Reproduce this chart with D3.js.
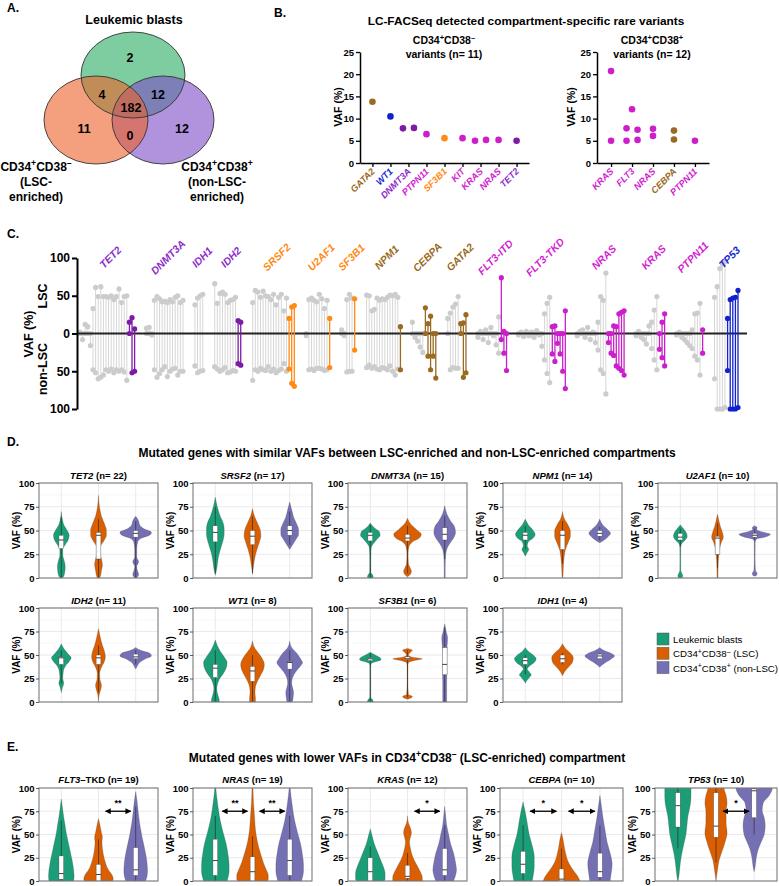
<!DOCTYPE html>
<html><head><meta charset="utf-8">
<script src="https://cdn.jsdelivr.net/npm/d3@7/dist/d3.min.js"></script>
<style>
html,body{margin:0;padding:0;background:#fff;}
svg{display:block;}
</style></head><body>
<svg id="fig" width="779" height="886" xmlns="http://www.w3.org/2000/svg"></svg>
<script>
// ================= DATA =================
// ---- A. Venn diagram ----
const vennSets = ["Leukemic blasts", "CD34+CD38– (LSC-enriched)", "CD34+CD38+ (non-LSC-enriched)"];
const vennRegions = ["blasts only", "blasts∩LSC", "blasts∩non-LSC", "all three", "LSC only", "LSC∩non-LSC", "non-LSC only"];
const vennCounts = [2, 4, 12, 182, 11, 0, 12];

// ---- B. compartment-specific rare variants ----
const bLeftGenes = ["GATA2", "WT1", "DNMT3A", "PTPN11", "SF3B1", "KIT", "KRAS", "NRAS", "TET2"];
const bLeftVarGene = ["GATA2", "WT1", "DNMT3A", "DNMT3A", "PTPN11", "SF3B1", "KIT", "KRAS", "KRAS", "NRAS", "TET2"];
const bLeftVAF = [13.8, 10.5, 7.8, 7.9, 6.5, 5.6, 5.6, 5.0, 5.2, 5.2, 5.0];
const bLeftSlot = [0, 0, -1, 1, 0, 0, 0, -1, 1, 0, 0];
const bRightGenes = ["KRAS", "FLT3", "NRAS", "CEBPA", "PTPN11"];
const bRightVarGene = ["KRAS", "KRAS", "FLT3", "FLT3", "FLT3", "FLT3", "FLT3", "NRAS", "NRAS", "CEBPA", "CEBPA", "PTPN11"];
const bRightVAF = [20.7, 5.0, 7.8, 5.0, 12.1, 7.5, 5.2, 7.7, 6.1, 7.3, 5.3, 5.0];
const bRightSlot = [0, 0, -1, -1, 0, 1, 1, 0, 0, 0, 0, 0];
const bTicks = [0, 5, 10, 15, 20, 25];

// ---- C. paired VAFs (LSC up, non-LSC down) ----
const cGenes = ["TET2", "DNMT3A", "IDH1", "IDH2", "SRSF2", "U2AF1", "SF3B1", "NPM1", "CEBPA", "GATA2", "FLT3-ITD", "FLT3-TKD", "NRAS", "KRAS", "PTPN11", "TP53"];
const cShared = [
  [[2,0],[0,8],[12,0],[9,0],[0,16],[33,48],[61,52],[49,60],[62,58],[49,55],[49,48],[48,50],[50,47],[45,52],[49,48],[59,50],[41,48],[49,51],[50,62]],
  [[7,0],[8,0],[0,2],[44,48],[49,58],[46,53],[42,48],[43,44],[41,57],[45,50],[42,47],[48,46],[50,55],[41,50],[44,50]],
  [[38,43],[47,52],[50,50],[52,49]],
  [[66,44],[40,47],[53,50],[55,48],[52,45],[41,52],[44,51],[45,49],[48,50]],
  [[41,62],[57,48],[55,50],[48,46],[56,48],[50,49],[49,44],[45,50],[52,47],[38,52],[48,49],[52,47],[30,40],[47,50]],
  [[0,3],[45,48],[47,47],[44,49],[42,46],[52,46],[46,47],[33,49],[44,48]],
  [[5,0],[0,3],[45,51],[52,50],[47,50]],
  [[51,45],[50,42],[30,46],[32,44],[47,47],[44,48],[46,45],[45,46],[48,48],[51,43],[50,50],[52,55],[48,47]],
  [[15,0],[0,5],[0,10],[0,18],[0,25]],
  [[20,0],[27,48],[35,45],[39,46],[49,46]],
  [[0,5],[3,0],[0,8],[5,0],[0,12],[8,0],[0,3],[0,15],[22,26]],
  [[0,2],[2,0],[0,4],[3,0],[0,3],[2,2],[0,5],[4,0],[0,2],[0,17],[26,35],[40,53],[48,65]],
  [[0,3],[3,0],[5,0],[0,5],[8,0],[0,8],[2,0],[0,12],[15,22],[49,48],[44,53],[80,80]],
  [[0,3],[3,0],[0,5],[0,8],[0,14],[10,0],[15,20],[31,35],[49,48]],
  [[0,2],[2,0],[0,5],[0,8],[0,12],[0,16],[5,20],[26,30],[27,35],[40,55]],
  [[48,60],[62,100],[86,100],[92,100],[95,98]]
];
const cSpecific = [
  [[15,0],[21,52],[6,50]],
  [],
  [],
  [[17,40],[15,42]],
  [[20,47],[35,66],[37,70]],
  [[20,45]],
  [[46,22]],
  [[9,48]],
  [[34,0],[13,30],[23,48],[0,30],[0,59]],
  [[13,0],[14,58],[25,52]],
  [[74,8],[3,26],[0,49]],
  [[9,27],[10,37],[0,13],[0,27],[0,50],[30,73]],
  [[0,12],[0,26],[10,29],[9,43],[26,46],[28,49],[30,55]],
  [[0,21],[15,32],[26,43]],
  [[5,26]],
  [[20,49],[45,100],[47,100],[48,100],[57,98]]
];
const cTicks = [-100, -50, 0, 50, 100];

// ---- D. similar VAFs (violins: [VAF, density] profiles; boxes: [min,q1,median,q3,max]) ----
const groupNames = ["Leukemic blasts", "CD34+CD38– (LSC)", "CD34+CD38+ (non-LSC)"];
const dGenes = ["TET2", "SRSF2", "DNMT3A", "NPM1", "U2AF1", "IDH2", "WT1", "SF3B1", "IDH1"];
const dN = [22, 17, 15, 14, 10, 11, 8, 6, 4];
const dBlastsViolin = [
 [[70,0],[62,1],[55,3],[50,6],[45,8],[40,7],[35,4],[30,1.5],[24,1.5],[18,3],[12,4],[6,3.5],[1,2],[0,1]],
 [[85,0],[75,2],[65,5],[58,8],[52,9],[46,9],[40,8],[33,6],[26,4],[18,2.5],[10,1.5],[5,0.5],[3,0]],
 [[58,0],[53,4],[49,9],[45,10],[41,7],[36,3],[32,1],[25,0.6],[15,0.5],[6,0.6],[3,2.5],[1,3],[0,2]],
 [[62,0],[56,3],[50,8],[46,10],[42,8],[38,3],[34,2],[30,3.5],[27,2],[23,0]],
 [[56,0],[52,3],[48,6],[44,7],[40,5],[37,2],[33,0.5],[20,0.4],[8,0.5],[4,2],[2,2.5],[0,1.5]],
 [[62,0],[56,3],[51,7],[47,10],[43,8],[38,4],[32,2],[25,1.5],[20,2.5],[15,1],[10,0]],
 [[66,0],[60,2],[54,5],[48,9],[42,12],[36,11],[30,8],[24,4],[18,2],[14,1.5],[10,2],[6,3],[2,4],[0,4]],
 [[53,0],[50,5],[47,10],[45,11],[43,6],[41,1],[38,0.4],[20,0.4],[5,0.5],[2,2.5],[0,3]],
 [[58,0],[54,3],[50,8],[46,11],[42,9],[38,4],[35,2],[32,4],[29,6],[26,4],[22,1],[20,0]]
];
const dLSCViolin = [
 [[87,0],[75,1],[65,3],[57,6],[50,8],[45,8],[40,6],[33,2],[27,1.5],[20,3],[14,4],[8,3],[2,2],[0,1]],
 [[73,0],[65,2],[58,5],[50,8],[44,8.5],[38,7],[30,4.5],[22,2.5],[12,1],[4,0]],
 [[63,0],[57,3],[51,9],[46,14],[42,12],[38,5],[33,1.5],[25,0.6],[15,1],[10,3],[7,4],[4,3],[2,1],[1,0]],
 [[70,0],[62,2],[55,6],[49,8],[44,8],[38,6],[30,3],[20,1.5],[10,0.8],[2,0.5],[0,0]],
 [[67,0],[60,1.5],[54,3],[48,5],[43,6],[38,4],[30,2],[20,1],[10,0.6],[0,0.5]],
 [[78,0],[68,2],[60,4],[54,6],[48,7],[43,6],[37,3],[30,1.2],[24,1.5],[18,3],[14,2.5],[8,0.8],[0,0]],
 [[65,0],[58,2],[52,6],[46,10],[40,12],[34,11],[28,8],[22,5],[16,3],[10,2.5],[4,3],[0,3]],
 [[57,0],[55,5],[53,3],[50,1],[48,4],[46,15],[44,6],[42,1],[38,0.4],[20,0.4],[8,1],[6,5],[4,3],[3,0]],
 [[62,0],[57,3],[52,8],[47,11],[42,10],[37,6],[32,2],[28,0]]
];
const dNonViolin = [
 [[65,0],[60,3],[56,4],[52,8],[48,16],[45,14],[42,6],[38,2],[30,1],[22,1],[17,3],[12,1],[7,2],[4,3],[0,1]],
 [[80,0],[72,2],[64,4],[57,7],[51,9],[46,9],[40,6],[35,3],[30,0]],
 [[76,0],[68,2],[60,6],[54,10],[48,11],[42,9],[36,5],[30,2],[22,0.8],[10,0.5],[0,0.5]],
 [[62,0],[56,3],[51,8],[47,11],[43,8],[39,3],[37,0]],
 [[55,0],[53,2.5],[51,2],[49,6],[46,16],[43,10],[41,2],[38,0.5],[20,0.4],[8,0.8],[5,2.5],[3,2],[2,0]],
 [[58,0],[55,5],[52,14],[49,16],[46,10],[42,4],[38,1.5],[35,0]],
 [[65,0],[58,2],[52,7],[46,11],[42,13],[37,10],[32,6],[26,3],[20,2],[15,3],[10,4],[5,3.5],[1,3],[0,2]],
 [[83,0],[75,1.5],[68,3],[60,2.5],[50,2],[40,2],[30,2.2],[20,2],[10,2],[0,2]],
 [[58,0],[55,4],[52,11],[49,15],[46,12],[42,6],[39,2],[37,0]]
];
const dBlastsBox = [[0,31,40,45,64],[5,38,48,55,75],[0,39,45,48,56],[30,40,45,48,55],[33,40,43,47,52],[20,40,47,48,55],[0,26,36,40,55],[0,44,46,47,52],[29,40,44,47,50]];
const dLSCBox = [[0,20,45,48,62],[5,35,44,50,65],[5,39,42,46,55],[15,30,45,50,60],[10,25,42,44,58],[10,40,47,50,60],[0,22,33,38,50],[5,45,46,48,55],[40,42,46,50,52]];
const dNonBox = [[0,43,47,50,60],[35,45,50,55,70],[20,40,46,53,65],[40,44,47,50,54],[40,43,45,47,52],[40,46,48,51,55],[0,35,42,43,55],[0,29,40,58,80],[46,46,49,51,52]];

// ---- E. lower VAFs in LSC ----
const eGenes = ["FLT3", "NRAS", "KRAS", "CEBPA", "TP53"];
const eSuffix = ["–TKD", "", "", "", ""];
const eN = [19, 19, 12, 10, 10];
const eSig = [[[1,2,"**"]], [[0,1,"**"],[1,2,"**"]], [[1,2,"*"]], [[0,1,"*"],[1,2,"*"]], [[1,2,"*"]]];
const eBlastsViolin = [
 [[88,0],[80,1],[72,2],[62,3.5],[52,5],[42,7],[32,9],[22,11],[12,12.5],[5,13],[0,12.5]],
 [[100,0.5],[90,1.5],[78,3],[65,5],[52,8],[40,11],[28,13],[18,14],[10,14],[4,13],[0,12]],
 [[56,0],[48,2],[40,4],[32,7],[24,10],[16,13],[8,15],[2,15],[0,14]],
 [[85,0],[75,2],[63,4],[50,6],[38,9],[26,11],[15,11],[6,10],[0,9]],
 [[106,13],[100,13],[90,13],[80,12],[70,10],[60,9],[50,8],[40,6],[30,4],[20,2.5],[10,1.5],[2,0.5],[0,0]]
];
const eLSCViolin = [
 [[67,0],[60,1.5],[52,3],[47,4],[42,3.5],[35,4],[28,5],[20,7],[12,10],[6,14],[2,15],[0,14]],
 [[100,0.5],[85,1],[70,2],[55,3],[42,5],[30,8],[20,11],[12,14],[6,16],[2,16],[0,15]],
 [[70,0],[62,1],[57,3],[52,4],[47,3],[42,2],[35,3],[27,5],[18,9],[10,13],[4,15],[0,15]],
 [[52,0],[45,1.5],[38,2.5],[30,4],[22,6],[14,10],[8,14],[3,17],[0,18]],
 [[106,8],[100,8],[92,10],[84,11],[75,10],[62,10],[52,11],[42,9],[32,6],[22,3],[12,1.5],[0,0]]
];
const eNonViolin = [
 [[96,0],[85,1.5],[75,2.5],[62,4],[50,6],[40,8],[30,10],[20,11.5],[10,12],[3,11],[0,10]],
 [[100,0.5],[90,1.5],[78,3],[65,5],[52,8],[40,11],[28,13],[18,14],[10,14],[4,13],[0,12]],
 [[80,0],[70,1],[60,2],[50,4],[40,6],[30,9],[20,11],[12,12],[6,11],[0,9]],
 [[92,0],[80,1.5],[68,3],[55,5],[42,7],[30,10],[18,12],[8,11],[0,10]],
 [[106,18],[100,18],[92,15],[84,9],[76,8],[68,10],[60,11],[50,10],[42,7],[34,4],[24,2],[15,1],[10,0]]
];
const eBlastsBox = [[0,2,8,27,65],[0,6,22,45,70],[0,0,10,25,37],[0,8,18,32,60],[35,58,81,95,100]];
const eLSCBox = [[0,0,7,18,45],[0,0,10,26,48],[0,3,5,17,30],[0,0,2,13,35],[20,47,59,95,100]];
const eNonBox = [[0,6,12,36,80],[0,6,22,45,70],[0,6,12,35,60],[0,4,10,30,60],[50,68,97,99,100]];
const vafTicks = [0, 25, 50, 75, 100];

// ================= STYLE =================
const FONT = '"Liberation Sans", Arial, Helvetica, sans-serif';
const groupColors = ["#1b9e77", "#d95f02", "#7570b3"];
const geneClass = {TET2:"epi",DNMT3A:"epi",IDH1:"epi",IDH2:"epi",SRSF2:"spl",U2AF1:"spl",SF3B1:"spl",
  NPM1:"tf",CEBPA:"tf",GATA2:"tf","FLT3-ITD":"sig","FLT3-TKD":"sig",FLT3:"sig",NRAS:"sig",KRAS:"sig",PTPN11:"sig",KIT:"sig",TP53:"ts",WT1:"ts"};
const dotColor = {epi:"#7d1ba6", spl:"#ff8a14", tf:"#9a6a22", sig:"#cc1fcc", ts:"#1022cc"};
const labColor = {epi:"#8e2ccc", spl:"#ff8a14", tf:"#9a6a22", sig:"#d21fd2", ts:"#1428d4"};

// ================= DRAW =================
const svg = d3.select("#fig");
svg.append("rect").attr("width", 779).attr("height", 886).attr("fill", "#fff");
const defs = svg.append("defs");
defs.append("marker").attr("id", "arr").attr("viewBox", "0 0 10 10").attr("refX", 9).attr("refY", 5)
  .attr("markerWidth", 4.5).attr("markerHeight", 4.5).attr("orient", "auto-start-reverse")
  .append("path").attr("d", "M0,0L10,5L0,10z").attr("fill", "#000");

function T(x, y, str, o = {}) {
  const t = svg.append("text").attr("x", x).attr("y", y).text(str)
    .attr("font-family", FONT).attr("font-size", o.fs || 12).attr("font-weight", o.fw || "bold")
    .attr("text-anchor", o.anchor || "start").attr("fill", o.fill || "#000");
  if (o.it) t.attr("font-style", "italic");
  if (o.db) t.attr("dominant-baseline", o.db);
  if (o.rot != null) t.attr("transform", `rotate(${o.rot},${x},${y})`);
  return t;
}
// rich text: segs = [[text, style]] style: "" | "sup" | "it"
function R(x, y, segs, o = {}) {
  const fs = o.fs || 12;
  const t = svg.append("text").attr("x", x).attr("y", y).attr("font-family", FONT).attr("font-size", fs)
    .attr("font-weight", o.fw || "bold").attr("text-anchor", o.anchor || "start").attr("fill", o.fill || "#000");
  if (o.rot != null) t.attr("transform", `rotate(${o.rot},${x},${y})`);
  let up = false;
  segs.forEach(([s, st]) => {
    const ts = t.append("tspan").text(s);
    if (st === "sup") {
      ts.attr("font-size", fs * 0.72);
      if (!up) { ts.attr("dy", -fs * 0.38); up = true; }
    } else {
      if (up) { ts.attr("dy", fs * 0.38); up = false; }
      if (st === "it") ts.attr("font-style", "italic");
    }
  });
  return t;
}
const LSCsegs = [["CD34",""],["+","sup"],["CD38",""],["–","sup"]];
const NONsegs = [["CD34",""],["+","sup"],["CD38",""],["+","sup"]];

// panel letters
T(7, 12, "A.", {fs: 12});
T(274, 17, "B.", {fs: 12});
T(7, 238, "C.", {fs: 12});
T(7, 446, "D.", {fs: 12});
T(7, 751, "E.", {fs: 12});

// ---------- A. Venn ----------
(function () {
  const ell = [[133, 75, 52, 43], [163, 120, 51, 44], [96, 120, 52, 44]]; // blasts, non-LSC, LSC
  const fills = ["rgb(38,172,97)", "rgb(125,75,198)", "rgb(237,97,40)"];
  const g = svg.append("g");
  g.selectAll("ellipse.f").data(ell).join("ellipse").attr("class", "f")
    .attr("cx", d => d[0]).attr("cy", d => d[1]).attr("rx", d => d[2]).attr("ry", d => d[3])
    .attr("fill", (d, i) => fills[i]).attr("fill-opacity", 0.6);
  g.selectAll("ellipse.s").data(ell).join("ellipse").attr("class", "s")
    .attr("cx", d => d[0]).attr("cy", d => d[1]).attr("rx", d => d[2]).attr("ry", d => d[3])
    .attr("fill", "none").attr("stroke", "#333").attr("stroke-width", 0.9);
  const pos = [[130, 58], [102, 95], [158, 95], [131, 108], [84, 129], [130, 136], [182, 129]];
  vennCounts.forEach((c, i) => T(pos[i][0], pos[i][1], String(c), {fs: 12.5, anchor: "middle", db: "central"}));
  T(134, 24, vennSets[0], {fs: 12.5, anchor: "middle"});
  R(36, 171, LSCsegs, {fs: 12, anchor: "middle"});
  T(36, 186, "(LSC-", {fs: 12, anchor: "middle"});
  T(36, 201, "enriched)", {fs: 12, anchor: "middle"});
  R(217, 171, NONsegs, {fs: 12, anchor: "middle"});
  T(217, 186, "(non-LSC-", {fs: 12, anchor: "middle"});
  T(217, 201, "enriched)", {fs: 12, anchor: "middle"});
})();

// ---------- B. ----------
T(526, 25, "LC-FACSeq detected compartment-specific rare variants", {fs: 11.8, anchor: "middle"});
function drawB(genes, vGene, vVal, vSlot, x0, x1, pad, subSegs, nText, subX, labX) {
  const y = d3.scaleLinear().domain([0, 25]).range([163, 52]);
  const x = d3.scalePoint().domain(genes).range([x0, x1]).padding(pad);
  const g = svg.append("g");
  const ay = g.append("g").attr("transform", `translate(${x0},0)`)
    .call(d3.axisLeft(y).tickValues(bTicks).tickSize(4).tickSizeOuter(0).tickPadding(2));
  const ax = g.append("g").attr("transform", `translate(0,${y(0)})`)
    .call(d3.axisBottom(x).tickSize(4).tickSizeOuter(0).tickFormat(""));
  [ay, ax].forEach(a => {
    a.select(".domain").attr("stroke", "#000").attr("stroke-width", 1.5);
    a.selectAll(".tick line").attr("stroke", "#000").attr("stroke-width", 1.3);
    a.selectAll("text").attr("font-family", FONT).attr("font-size", 9.5).attr("font-weight", "bold").attr("fill", "#000");
  });
  g.selectAll("circle").data(vVal).join("circle")
    .attr("cx", (d, i) => x(vGene[i]) + vSlot[i] * 5.5).attr("cy", d => y(d)).attr("r", 3.3)
    .attr("fill", (d, i) => dotColor[geneClass[vGene[i]]]);
  genes.forEach(gn => T(x(gn) + 3, 172, gn, {fs: 9.2, it: true, anchor: "end", rot: -45, fill: labColor[geneClass[gn]]}));
  R(subX, 44, subSegs, {fs: 10.5, anchor: "middle"});
  T(subX, 58, nText, {fs: 10.5, anchor: "middle"});
  T(labX, 107, "VAF (%)", {fs: 10.5, anchor: "middle", rot: -90, db: "central"});
}
drawB(bLeftGenes, bLeftVarGene, bLeftVAF, bLeftSlot, 360, 529, 0.69, LSCsegs, `variants (n= ${bLeftVAF.length})`, 444, 338);
drawB(bRightGenes, bRightVarGene, bRightVAF, bRightSlot, 597, 709, 0.67, NONsegs, `variants (n= ${bRightVAF.length})`, 652, 571);

// ---------- C. ----------
(function () {
  const yC = d3.scaleLinear().domain([-100, 100]).range([409, 258]);
  const GAP = 4.6;
  let p = 0; const starts = [];
  cGenes.forEach((g, i) => { starts.push(p); p += cShared[i].length + cSpecific[i].length - 1 + GAP; });
  const xC = d3.scaleLinear().domain([0, p - GAP]).range([80, 738]);
  const g = svg.append("g");
  const gGrey = g.append("g"), gZero = g.append("g"), gCol = g.append("g");
  cGenes.forEach((gn, i) => {
    const all = cShared[i].map(v => ({v, grey: true})).concat(cSpecific[i].map(v => ({v, grey: false})));
    const col = dotColor[geneClass[gn]];
    all.forEach((d, j) => {
      const xx = xC(starts[i] + j);
      const tgt = d.grey ? gGrey : gCol;
      const c = d.grey ? "#d6d6d6" : col;
      tgt.append("line").attr("x1", xx).attr("x2", xx).attr("y1", yC(d.v[0])).attr("y2", yC(-d.v[1]))
        .attr("stroke", c).attr("stroke-width", d.grey ? 1 : 1.3);
      [d.v[0], -d.v[1]].forEach(v => tgt.append("circle").attr("cx", xx).attr("cy", yC(v))
        .attr("r", 2.6).attr("fill", d.grey ? "#cccccc" : col));
    });
    const cx = (xC(starts[i]) + xC(starts[i] + all.length - 1)) / 2 + 3;
    T(cx, 257, gn, {fs: 10.5, fw: "bold", it: true, anchor: "middle", db: "central", rot: -45, fill: labColor[geneClass[gn]]});
  });
  gZero.append("line").attr("x1", 77).attr("x2", 747).attr("y1", yC(0)).attr("y2", yC(0)).attr("stroke", "#222").attr("stroke-width", 1.8);
  const ay = g.append("g").attr("transform", "translate(77,0)")
    .call(d3.axisLeft(yC).tickValues(cTicks).tickFormat(d => Math.abs(d)).tickSize(5).tickSizeOuter(0).tickPadding(2));
  ay.select(".domain").attr("stroke", "#000").attr("stroke-width", 2);
  ay.selectAll(".tick line").attr("stroke", "#000").attr("stroke-width", 2);
  ay.selectAll("text").attr("font-family", FONT).attr("font-size", 12).attr("font-weight", "bold").attr("fill", "#000");
  T(43, 296, "LSC", {fs: 12.5, anchor: "middle", rot: -90, db: "central"});
  T(29, 334, "VAF (%)", {fs: 12.5, anchor: "middle", rot: -90, db: "central"});
  T(43, 369, "non-LSC", {fs: 12.5, anchor: "middle", rot: -90, db: "central"});
})();

// ---------- D/E violins ----------
let clipN = 0;
function violinPanel(left, top, w, h, titleSegs, titleY, profs, boxes, sigs) {
  const x = d3.scaleLinear().domain([0.4, 3.6]).range([left, left + w]);
  const y = d3.scaleLinear().domain([0, 100]).range([top + h, top]);
  const unit = w / 3.2;
  const wS = d3.scaleLinear().domain([0, 17]).range([0, 0.45 * unit]);
  const g = svg.append("g");
  const id = "clip" + (clipN++);
  defs.append("clipPath").attr("id", id).append("rect").attr("x", left).attr("y", top).attr("width", w).attr("height", h);
  [12.5, 37.5, 62.5, 87.5].forEach(v => g.append("line").attr("x1", left).attr("x2", left + w)
    .attr("y1", y(v)).attr("y2", y(v)).attr("stroke", "#f3f3f3").attr("stroke-width", 0.6));
  vafTicks.forEach(v => g.append("line").attr("x1", left).attr("x2", left + w)
    .attr("y1", y(v)).attr("y2", y(v)).attr("stroke", "#e4e4e4").attr("stroke-width", 0.8));
  [1, 2, 3].forEach(k => g.append("line").attr("x1", x(k)).attr("x2", x(k))
    .attr("y1", top).attr("y2", top + h).attr("stroke", "#e4e4e4").attr("stroke-width", 0.8));
  const gc = g.append("g").attr("clip-path", `url(#${id})`);
  profs.forEach((pr, k) => {
    const cx = x(k + 1);
    const area = d3.area().curve(d3.curveMonotoneY).y(d => y(d[0]))
      .x0(d => cx - wS(d[1])).x1(d => cx + wS(d[1]));
    gc.append("path").attr("d", area(pr)).attr("fill", groupColors[k]).attr("stroke", "#3d3d3d")
      .attr("stroke-width", 0.35).attr("stroke-opacity", 0.7);
    const b = boxes[k];
    gc.append("line").attr("x1", cx).attr("x2", cx).attr("y1", y(b[0])).attr("y2", y(b[4]))
      .attr("stroke", "#222").attr("stroke-width", 0.6);
    gc.append("rect").attr("x", cx - 2.4).attr("width", 4.8).attr("y", y(b[3])).attr("height", Math.max(0.8, y(b[1]) - y(b[3])))
      .attr("fill", "#fff").attr("stroke", "#444").attr("stroke-width", 0.4);
    gc.append("line").attr("x1", cx - 2.4).attr("x2", cx + 2.4).attr("y1", y(b[2])).attr("y2", y(b[2]))
      .attr("stroke", "#111").attr("stroke-width", 0.8);
  });
  g.append("rect").attr("x", left).attr("y", top).attr("width", w).attr("height", h)
    .attr("fill", "none").attr("stroke", "#7a7a7a").attr("stroke-width", 1.1);
  const ay = g.append("g").attr("transform", `translate(${left},0)`)
    .call(d3.axisLeft(y).tickValues(vafTicks).tickSize(3).tickSizeOuter(0).tickPadding(1.5));
  ay.select(".domain").remove();
  ay.selectAll(".tick line").attr("stroke", "#333").attr("stroke-width", 0.8);
  ay.selectAll("text").attr("font-family", FONT).attr("font-size", 9.5).attr("font-weight", "bold").attr("fill", "#000");
  T(left - 23, top + h / 2, "VAF (%)", {fs: 10, anchor: "middle", rot: -90, db: "central"});
  R(left + w / 2, titleY, titleSegs, {fs: 9.5, anchor: "middle"});
  (sigs || []).forEach(([a, bb, lab]) => {
    const xa = x(a + 1) + 7, xb = x(bb + 1) - 5, yy = y(75);
    g.append("line").attr("x1", xa).attr("x2", xb).attr("y1", yy).attr("y2", yy)
      .attr("stroke", "#000").attr("stroke-width", 1.3)
      .attr("marker-start", "url(#arr)").attr("marker-end", "url(#arr)");
    T((xa + xb) / 2, y(81), lab, {fs: 9, anchor: "middle"});
  });
}

T(407, 457, "Mutated genes with similar VAFs between LSC-enriched and non-LSC-enriched compartments", {fs: 12, anchor: "middle"});
const dLefts = [39, 193, 348, 503, 658];
dGenes.forEach((gn, i) => {
  const row = Math.floor(i / 5), col = i % 5;
  const top = row === 0 ? 483 : 608, h = row === 0 ? 95 : 94;
  violinPanel(dLefts[col], top, 119, h, [[gn, "it"], [` (n= ${dN[i]})`, ""]], row === 0 ? 479 : 604,
    [dBlastsViolin[i], dLSCViolin[i], dNonViolin[i]], [dBlastsBox[i], dLSCBox[i], dNonBox[i]], null);
});
// legend
(function () {
  groupNames.forEach((nm, i) => {
    const yy = 633 + i * 14.3;
    svg.append("rect").attr("x", 657).attr("y", yy).attr("width", 12).attr("height", 12)
      .attr("fill", groupColors[i]).attr("stroke", "#555").attr("stroke-width", 0.5);
    if (i === 0) T(673, yy + 10, nm, {fs: 9.7, fw: "normal"});
    else R(673, yy + 10, [["CD34",""],["+","sup"],["CD38",""],[i === 1 ? "–" : "+","sup"],[i === 1 ? " (LSC)" : " (non-LSC)",""]], {fs: 9.7, fw: "normal"});
  });
})();

R(407, 762, [["Mutated genes with lower VAFs in CD34",""],["+","sup"],["CD38",""],["–","sup"],[" (LSC-enriched) compartment",""]], {fs: 12, anchor: "middle"});
const eLefts = [39, 193, 348, 500, 655];
eGenes.forEach((gn, i) => {
  const segs = [[gn, "it"]];
  if (eSuffix[i]) segs.push([eSuffix[i], ""]);
  segs.push([` (n= ${eN[i]})`, ""]);
  violinPanel(eLefts[i], 788, i === 3 ? 123 : (i === 4 ? 122 : 119), 93, segs, 783,
    [eBlastsViolin[i], eLSCViolin[i], eNonViolin[i]], [eBlastsBox[i], eLSCBox[i], eNonBox[i]], eSig[i]);
});
</script>
</body></html>
